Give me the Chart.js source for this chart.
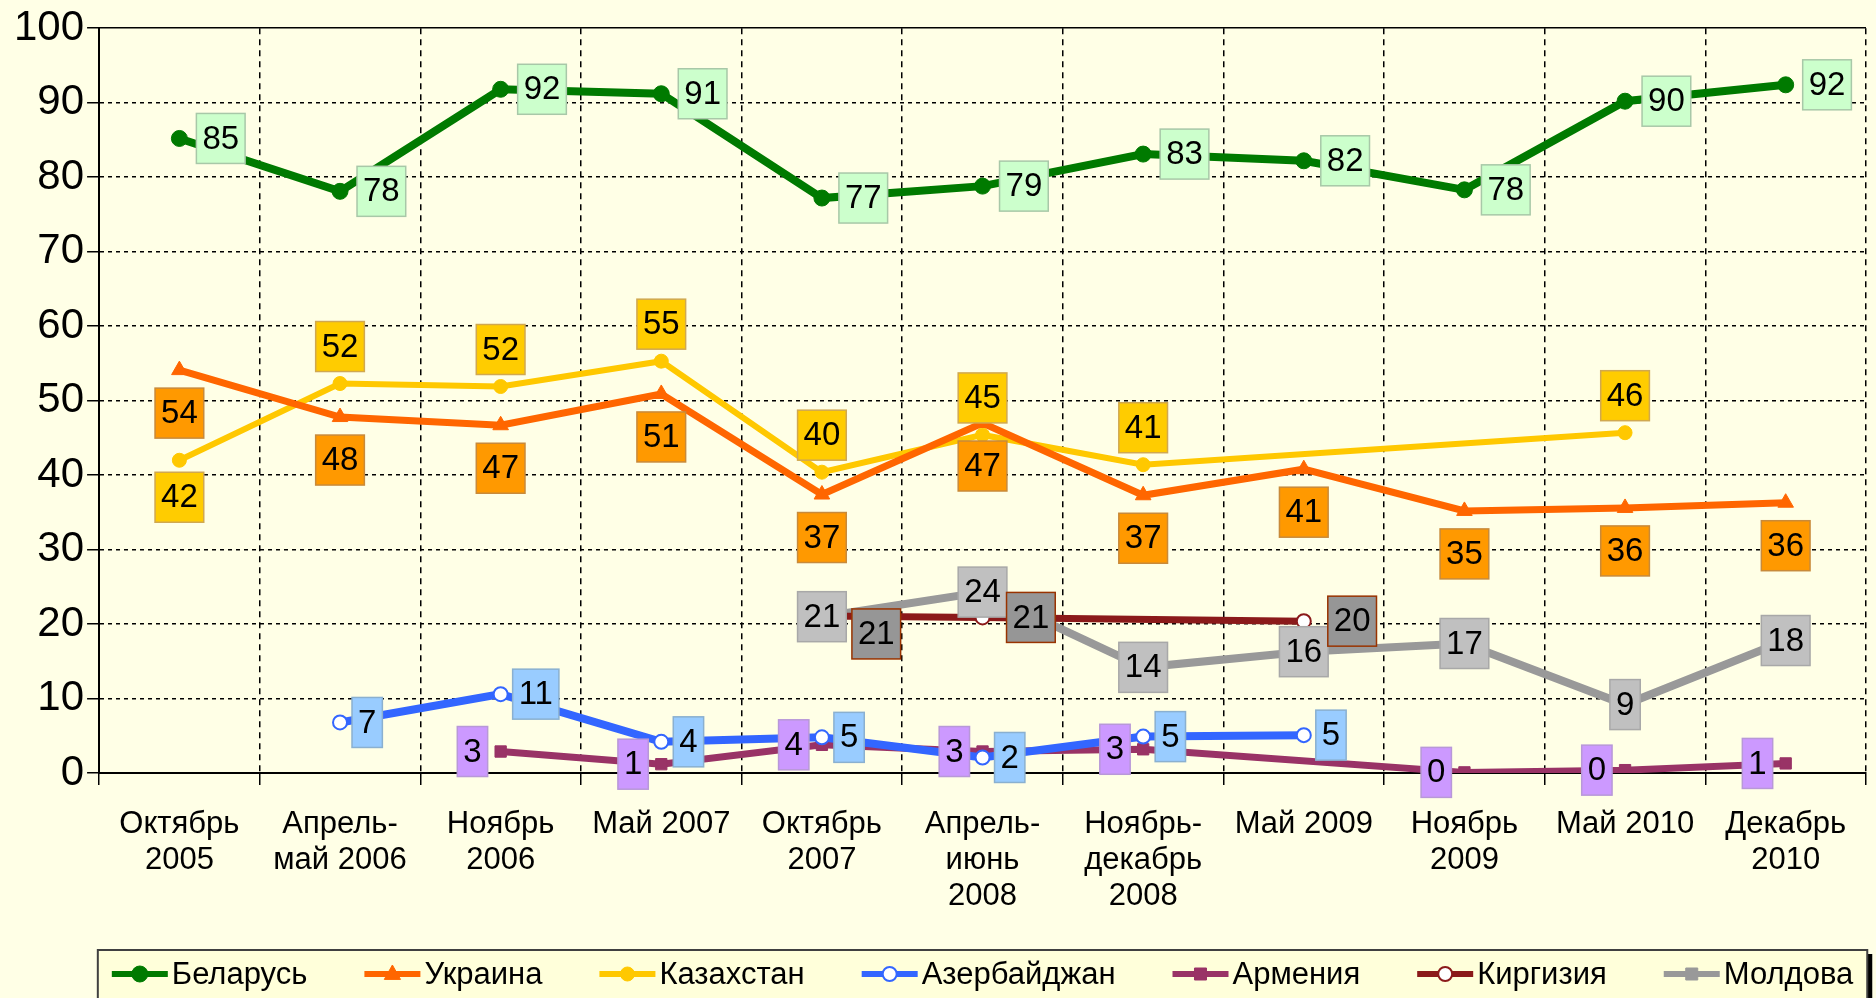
<!DOCTYPE html>
<html lang="ru">
<head>
    <meta charset="UTF-8">
    <title>Опрос по странам СНГ</title>
    <script src="https://cdn.jsdelivr.net/npm/chart.js"></script>
    <style>
        body {
            margin: 0;
            padding: 0;
            background: #FFFFE6;
        }
        canvas {
            display: block;
            background: #FFFFE6;
        }
    </style>
</head>
<body>
    <canvas id="surveyChart" width="1876" height="998"></canvas>
    <script>
        // Periods of the survey (x axis)
        const periods = [
            ['Октябрь', '2005'], ['Апрель-', 'май 2006'], ['Ноябрь', '2006'], ['Май 2007'],
            ['Октябрь', '2007'], ['Апрель-', 'июнь', '2008'], ['Ноябрь-', 'декабрь', '2008'],
            ['Май 2009'], ['Ноябрь', '2009'], ['Май 2010'], ['Декабрь', '2010']
        ];

        // Values per country (null = no survey)
        const belarus    = [85.2, 78.1, 91.8, 91.2, 77.2, 78.8, 83.1, 82.2, 78.3, 90.2, 92.4];
        const ukraine    = [54.1, 47.8, 46.7, 50.9, 37.4, 47.0, 37.3, 40.8, 35.2, 35.6, 36.3];
        const kazakhstan = [42.0, 52.3, 51.9, 55.3, 40.4, 45.4, 41.4, null, null, 45.7, null];
        const azerbaijan = [null, 6.8, 10.6, 4.2, 4.8, 2.1, 4.9, 5.1, null, null, null];
        const armenia    = [null, null, 2.9, 1.2, 3.8, 2.9, 3.2, null, 0.1, 0.4, 1.3];
        const kyrgyzstan = [null, null, null, null, 21.1, 20.9, null, 20.4, null, null, null];
        const moldova    = [null, null, null, null, 21.0, 24.3, 14.2, 16.3, 17.4, 9.2, 17.8];

        const yTicks = { min: 0, max: 100, step: 10 };

        const FONT = 'Arial, "Liberation Sans", sans-serif';

        // where each value box sits relative to its point, and how far from it
        const labelPlace = {
            'Беларусь': 'r',
            'Украина': 'b',
            'Казахстан': ['b', 'a', 'a', 'a', 'a', 'a', 'a', 'a', 'a', 'a', 'a'],
            'Азербайджан': 'r',
            'Армения': 'l',
            'Киргизия': ['r', 'r', 'r', 'r', 'rb', 'r', 'r', 'r', 'r', 'r', 'r'],
            'Молдова': 'c'
        };
        const labelGap = {
            'Беларусь': 17, 'Украина': 18, 'Казахстан': 12, 'Азербайджан': 12,
            'Армения': 13, 'Киргизия': 24, 'Молдова': 0
        };

        function series(label, data, color, lw, style, radius, boxFill, boxBorder, hollow) {
            return {
                label: label,
                data: data,
                borderColor: color,
                backgroundColor: hollow ? '#FFFFFF' : color,
                borderWidth: lw,
                pointStyle: style,
                pointRadius: radius,
                pointBorderWidth: hollow ? 2 : 1,
                pointBackgroundColor: hollow ? '#FFFFFF' : color,
                pointBorderColor: color,
                tension: 0,
                spanGaps: true,
                boxFill: boxFill,
                boxBorder: boxBorder
            };
        }

        const datasets = [
            series('Беларусь', belarus, '#007A00', 8, 'circle', 8, '#CCFFCC', '#A8C8A8'),
            series('Украина', ukraine, '#FF6600', 7, 'triangle', 9, '#FF9900', '#C88A3A'),
            series('Казахстан', kazakhstan, '#FFC800', 6, 'circle', 7, '#FFCC00', '#D0A850'),
            series('Азербайджан', azerbaijan, '#3366FF', 8, 'circle', 7, '#99CCFF', '#8AB0D0', true),
            series('Армения', armenia, '#993366', 7, 'rect', 8, '#CC99FF', '#B898D8'),
            series('Киргизия', kyrgyzstan, '#8B1A1A', 7, 'circle', 7, '#969696', '#993300', true),
            series('Молдова', moldova, '#999999', 8, 'rect', 8, '#C0C0C0', '#A8A8A8')
        ];

        function drawMarker(ctx, style, x, y, r, fill, stroke, bw) {
            ctx.save();
            ctx.fillStyle = fill;
            ctx.strokeStyle = stroke;
            ctx.lineWidth = bw;
            ctx.beginPath();
            if (style === 'rect') {
                const s = r * 0.75;
                ctx.rect(x - s, y - s, 2 * s, 2 * s);
            } else if (style === 'triangle') {
                ctx.moveTo(x, y - r);
                ctx.lineTo(x + r * 0.9, y + r * 0.6);
                ctx.lineTo(x - r * 0.9, y + r * 0.6);
                ctx.closePath();
            } else {
                ctx.arc(x, y, r, 0, Math.PI * 2);
            }
            ctx.fill();
            ctx.stroke();
            ctx.restore();
        }

        // value boxes next to points
        const valueBoxes = {
            id: 'valueBoxes',
            afterDatasetsDraw(chart) {
                const ctx = chart.ctx;
                const order = [0, 1, 2, 3, 4, 6, 5];
                ctx.save();
                ctx.font = '33px ' + FONT;
                ctx.textAlign = 'center';
                ctx.textBaseline = 'middle';
                order.forEach(di => {
                    const ds = chart.data.datasets[di];
                    const meta = chart.getDatasetMeta(di);
                    const place = labelPlace[ds.label];
                    const g = labelGap[ds.label];
                    ds.data.forEach((v, i) => {
                        if (v === null) return;
                        const pt = meta.data[i];
                        const text = String(Math.round(v));
                        const w = ctx.measureText(text).width + 12;
                        const h = 50;
                        const p = Array.isArray(place) ? place[i] : place;
                        let cx = pt.x, cy = pt.y;
                        if (p === 'r') cx = pt.x + g + w / 2;
                        if (p === 'rb') { cx = pt.x + g + 6 + w / 2; cy = pt.y + 18; }
                        if (p === 'l') cx = pt.x - g - w / 2;
                        if (p === 'a') cy = pt.y - g - h / 2;
                        if (p === 'b') cy = pt.y + g + h / 2;
                        ctx.fillStyle = ds.boxFill;
                        ctx.fillRect(cx - w / 2, cy - h / 2, w, h);
                        ctx.strokeStyle = ds.boxBorder;
                        ctx.lineWidth = 1.5;
                        ctx.strokeRect(cx - w / 2, cy - h / 2, w, h);
                        ctx.fillStyle = '#000';
                        ctx.fillText(text, cx, cy + 1);
                    });
                });
                ctx.restore();
            }
        };

        // Excel-like legend in a framed box at the bottom
        const boxLegend = {
            id: 'boxLegend',
            afterDraw(chart) {
                const ctx = chart.ctx;
                const area = chart.chartArea;
                const iconW = 56, gap = 57, pad = 14;
                const top = chart.height - 48;
                const midY = top + 24;
                ctx.save();
                ctx.font = '31px ' + FONT;
                const widths = chart.data.datasets.map(ds => iconW + 4 + ctx.measureText(ds.label).width);
                const total = widths.reduce((a, b) => a + b, 0) + gap * (widths.length - 1);
                const start = (area.left + area.right) / 2 - total / 2;
                const left = start - pad, right = start + total + pad;

                ctx.fillStyle = '#000';
                ctx.fillRect(right, top + 4, 5, chart.height - top);
                ctx.fillStyle = '#FFFFDA';
                ctx.fillRect(left, top, right - left, chart.height - top + 2);
                ctx.strokeStyle = '#404040';
                ctx.lineWidth = 2;
                ctx.strokeRect(left, top, right - left, chart.height - top + 4);

                let x = start;
                chart.data.datasets.forEach((ds, i) => {
                    ctx.strokeStyle = ds.borderColor;
                    ctx.lineWidth = 6;
                    ctx.beginPath();
                    ctx.moveTo(x, midY);
                    ctx.lineTo(x + iconW, midY);
                    ctx.stroke();
                    drawMarker(ctx, ds.pointStyle, x + iconW / 2, midY, ds.pointRadius,
                        ds.pointBackgroundColor, ds.pointBorderColor, ds.pointBorderWidth);
                    ctx.fillStyle = '#000';
                    ctx.textAlign = 'left';
                    ctx.textBaseline = 'middle';
                    ctx.fillText(ds.label, x + iconW + 4, midY + 1);
                    x += widths[i] + gap;
                });
                ctx.restore();
            }
        };

        const ctxSurvey = document.getElementById('surveyChart').getContext('2d');
        const surveyChart = new Chart(ctxSurvey, {
            type: 'line',
            data: {
                labels: periods,
                datasets: datasets
            },
            options: {
                responsive: false,
                animation: false,
                layout: { padding: { left: 11, right: 2, top: 0, bottom: 63 } },
                plugins: {
                    legend: { display: false },
                    tooltip: { enabled: false }
                },
                scales: {
                    x: {
                        offset: true,
                        grid: { offset: true, color: '#000', lineWidth: 1.5, tickLength: 12, tickColor: '#000', tickWidth: 1.5 },
                        border: { display: true, color: '#000', width: 2, dash: [6, 5] },
                        ticks: { color: '#000', font: { family: FONT, size: 31, lineHeight: 1.16 }, padding: 21, maxRotation: 0, autoSkip: false }
                    },
                    y: {
                        min: yTicks.min,
                        max: yTicks.max,
                        grid: { color: '#000', lineWidth: 1.5, tickLength: 12, tickColor: '#000', tickWidth: 1.5 },
                        border: {
                            display: true, color: '#000', width: 2,
                            dash: (c) => (c.tick && c.tick.value === yTicks.max) ? [] : [4, 4]
                        },
                        ticks: { stepSize: yTicks.step, color: '#000', font: { family: FONT, size: 42 }, padding: 3 }
                    }
                }
            },
            plugins: [valueBoxes, boxLegend]
        });
    </script>
</body>
</html>
